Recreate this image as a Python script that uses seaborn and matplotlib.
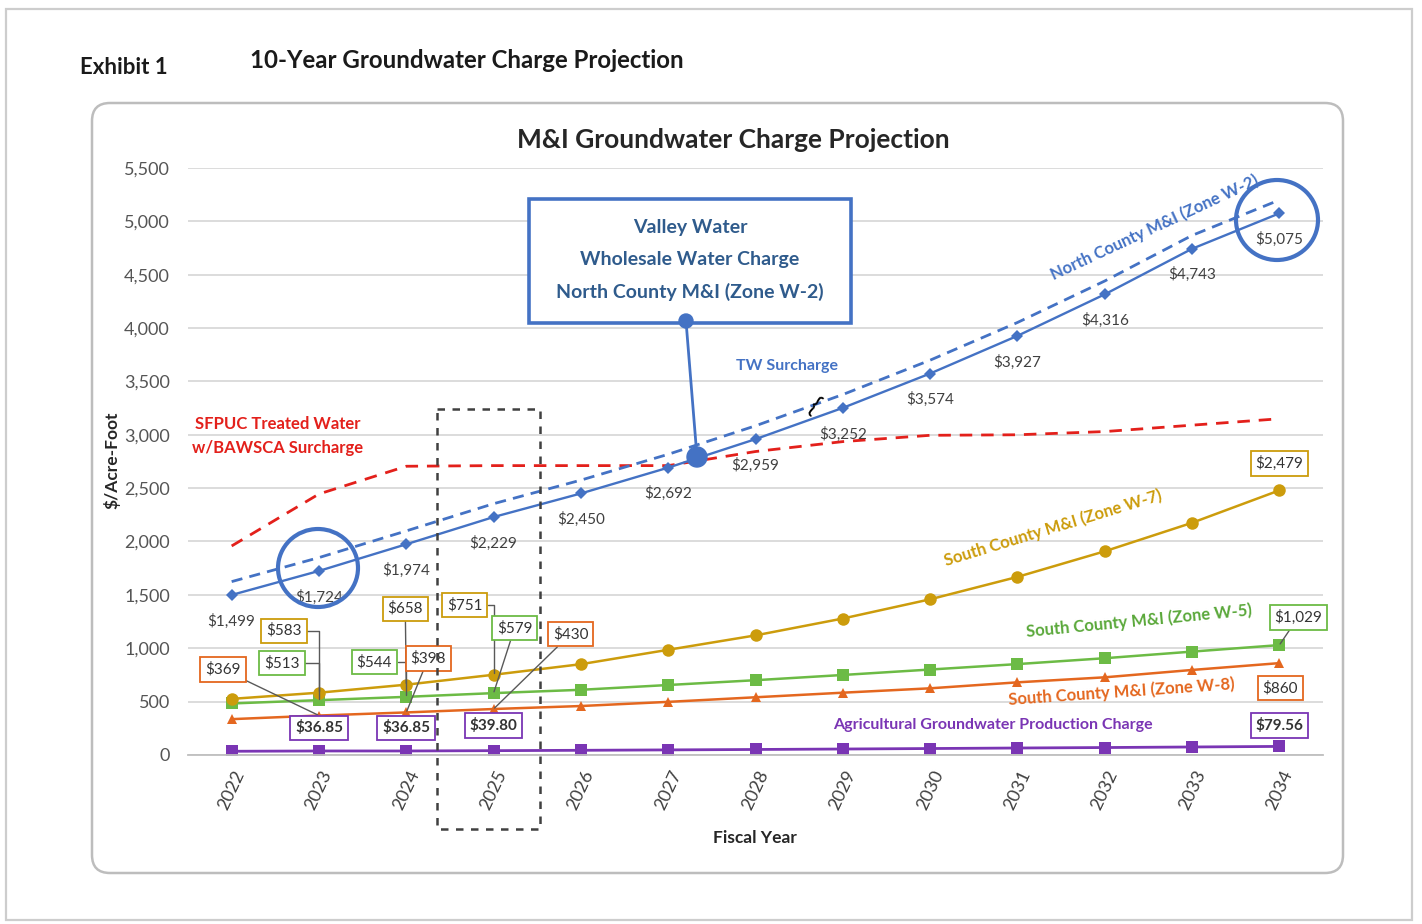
import numpy as np
import pandas as pd
import matplotlib
matplotlib.use("Agg")
import matplotlib.pyplot as plt
import seaborn as sns
from matplotlib.patches import FancyBboxPatch, Rectangle, Ellipse, Circle
from matplotlib.lines import Line2D

# ---- data ($ per acre-foot by fiscal year) ----
years = ["2022", "2023", "2024", "2025", "2026", "2027", "2028",
         "2029", "2030", "2031", "2032", "2033", "2034"]
north_w2 = [1499, 1724, 1974, 2229, 2450, 2692, 2959, 3252, 3574, 3927, 4316, 4743, 5075]
north_w2_tw = [1624, 1849, 2099, 2354, 2575, 2817, 3084, 3377, 3699, 4052, 4441, 4868, 5200]
sfpuc_bawsca = [1958, 2445, 2705, 2711, 2711, 2711, 2843, 2936, 2995, 3000, 3030, 3090, 3150]
south_w7 = [525, 583, 658, 751, 850, 985, 1120, 1278, 1458, 1668, 1908, 2175, 2479]
south_w5 = [482, 513, 544, 579, 610, 655, 700, 749, 800, 851, 906, 968, 1029]
south_w8 = [335, 369, 398, 430, 458, 497, 540, 583, 624, 680, 727, 796, 860]
ag_charge = [34.00, 36.85, 36.85, 39.80, 43.10, 46.80, 50.80, 55.10, 59.70,
             64.60, 69.00, 74.20, 79.56]

BLUE = "#4472c4"
RED = "#e3201b"
GOLD = "#cc9c0c"
GREEN = "#6cbb45"
ORANGE = "#e4671f"
PURPLE = "#7a35b4"
TXT = "#404040"

sns.set_theme(style="white")
plt.rcParams["font.family"] = ["Lato", "DejaVu Sans"]
plt.rcParams["text.parse_math"] = False

W, H = 1422, 924
fig = plt.figure(figsize=(W / 100, H / 100), dpi=100)
fig.patch.set_facecolor("white")

# background layer in pixel coordinates
bg = fig.add_axes([0, 0, 1, 1], zorder=0)
bg.set_xlim(0, W)
bg.set_ylim(H, 0)
bg.axis("off")
bg.add_patch(Rectangle((6, 9), 1406, 911, fill=False, ec="#cdcdcd", lw=1.6))
bg.add_patch(FancyBboxPatch((92, 103), 1251, 770,
                            boxstyle="round,pad=0,rounding_size=18",
                            fc="white", ec="#bdbdbd", lw=1.8))
bg.text(80, 67, "Exhibit 1", fontsize=16, fontweight="bold", color="#1a1a1a",
        ha="left", va="center")
bg.text(250, 60, "10-Year Groundwater Charge Projection", fontsize=17.3,
        fontweight="bold", color="#1a1a1a", ha="left", va="center")
bg.text(733, 140, "M&I Groundwater Charge Projection", fontsize=19,
        fontweight="bold", color="#262626", ha="center", va="center")
bg.text(112, 460, "$/Acre-Foot", fontsize=12.5, fontweight="bold", color="#262626",
        rotation=90, ha="center", va="center")

# main plotting axes
y0, ytop = 754.9, 168.0
ax = fig.add_axes([188 / W, (H - y0) / H, (1323 - 188) / W, (y0 - ytop) / H], zorder=2)
ax.patch.set_alpha(0)

x = np.arange(len(years))
series = [
    (sfpuc_bawsca, RED, None, 0, 2.0, (4.5, 3.2)),
    (north_w2_tw, BLUE, None, 0, 2.0, (4.0, 2.6)),
    (ag_charge, PURPLE, "s", 8, 2.0, None),
    (south_w8, ORANGE, "^", 7.5, 1.8, None),
    (south_w5, GREEN, "s", 8.5, 1.8, None),
    (south_w7, GOLD, "o", 9, 1.8, None),
    (north_w2, BLUE, "D", 6.5, 1.7, None),
]
for vals, col, mk, ms, lw, dash in series:
    kw = dict(marker=mk, markersize=ms, markeredgewidth=0) if mk else {}
    sns.lineplot(x=x, y=vals, ax=ax, color=col, linewidth=lw, errorbar=None, **kw)
    if dash:
        ax.lines[-1].set_dashes(dash)

ax.set_xlim(-0.5, 12.5)
ax.set_ylim(0, 5500)
ax.set_yticks(range(0, 5501, 500))
ax.set_yticklabels([f"{v:,}" for v in range(0, 5501, 500)])
ax.set_xticks(x)
ax.set_xticklabels(years, rotation=65)
ax.set_xticks(np.arange(-0.5, 13, 1), minor=True)
ax.tick_params(axis="x", which="major", length=0, pad=9, labelsize=13, labelcolor=TXT)
ax.tick_params(axis="x", which="minor", length=7, width=1.2, color="#bfbfbf", direction="out")
ax.tick_params(axis="y", length=0, pad=13, labelsize=13, labelcolor="#555555")
ax.grid(axis="y", color="#d9d9d9", lw=1.3)
ax.grid(axis="x", visible=False)
ax.set_axisbelow(True)
for s in ["left", "right", "top"]:
    ax.spines[s].set_visible(False)
ax.spines["bottom"].set_color("#bfbfbf")
ax.spines["bottom"].set_linewidth(1.3)
ax.set_xlabel("")
ax.set_ylabel("")

# value labels under the North County points
for i, v in enumerate(north_w2):
    ax.annotate(f"${v:,}", xy=(i, v), xytext=(0, -26), textcoords="offset pixels",
                ha="center", va="center", fontsize=11, color=TXT, zorder=6)

# boxed value labels with leader lines: (series, index, text, box colour, dx, dy, connection, bold)
boxed = [
    (south_w8, 1, "$369", ORANGE, -96, 46, "arc3", False),
    (south_w7, 1, "$583", GOLD, -35, 62, "angle,angleA=0,angleB=90,rad=0", False),
    (south_w5, 1, "$513", GREEN, -37, 37, "angle,angleA=0,angleB=90,rad=0", False),
    (ag_charge, 1, "$36.85", PURPLE, 0, 23, None, True),
    (south_w7, 2, "$658", GOLD, -1, 76, "arc3", False),
    (south_w5, 2, "$544", GREEN, -32, 35, "angle,angleA=0,angleB=90,rad=0", False),
    (south_w8, 2, "$398", ORANGE, 22, 54, "arc3", False),
    (ag_charge, 2, "$36.85", PURPLE, 0, 23, None, True),
    (south_w7, 3, "$751", GOLD, -29, 70, "angle,angleA=0,angleB=90,rad=0", False),
    (south_w5, 3, "$579", GREEN, 21, 65, "arc3", False),
    (south_w8, 3, "$430", ORANGE, 77, 75, "arc3", False),
    (ag_charge, 3, "$39.80", PURPLE, 0, 25, None, True),
    (south_w7, 12, "$2,479", GOLD, 0, 27, None, False),
    (south_w5, 12, "$1,029", GREEN, 19, 28, "arc3", False),
    (south_w8, 12, "$860", ORANGE, 1, -25, None, False),
    (ag_charge, 12, "$79.56", PURPLE, 0, 21, None, True),
]
for vals, i, txt, col, dx, dy, conn, bold in boxed:
    kw = {}
    if conn:
        kw["arrowprops"] = dict(arrowstyle="-", color="#595959", lw=1.0,
                                shrinkA=0, shrinkB=1, connectionstyle=conn)
    ax.annotate(txt, xy=(i, vals[i]), xytext=(dx, dy), textcoords="offset pixels",
                ha="center", va="center", fontsize=11, color="#333333",
                fontweight="bold" if bold else "normal", zorder=7,
                bbox=dict(boxstyle="square,pad=0.32", fc="white", ec=col, lw=1.3), **kw)

# overlay layer in pixel coordinates
ov = fig.add_axes([0, 0, 1, 1], zorder=5)
ov.set_xlim(0, W)
ov.set_ylim(H, 0)
ov.axis("off")
ov.patch.set_alpha(0)

# callout box
ov.add_patch(Rectangle((529, 199), 322, 124, fc="white", ec=BLUE, lw=2.6))
for yy, t in [(227, "Valley Water"), (259, "Wholesale Water Charge"),
              (292, "North County M&I (Zone W-2)")]:
    ov.text(690, yy, t, fontsize=14, fontweight="bold", color="#2f5b8c",
            ha="center", va="center")
ov.add_line(Line2D([686, 697], [321, 457], color=BLUE, lw=2))
ov.add_patch(Circle((686, 321), 7, color=BLUE))
ov.add_patch(Circle((697, 457), 10, color=BLUE))

# highlight circles
ov.add_patch(Ellipse((318, 568), 80, 78, fill=False, ec=BLUE, lw=3))
ov.add_patch(Ellipse((1277, 220), 82, 80, fill=False, ec=BLUE, lw=3))

# dashed frame around 2025
ov.add_patch(Rectangle((437, 409), 103, 420, fill=False, ec="#404040",
                       lw=1.8, ls=(0, (3, 3))))

# series labels
ov.text(1155, 227, "North County M&I (Zone W-2)", fontsize=12, fontweight="bold",
        color=BLUE, rotation=25, ha="center", va="center", rotation_mode="anchor")
ov.text(787, 366, "TW Surcharge", fontsize=11.5, fontweight="bold", color=BLUE,
        ha="center", va="center")
ov.text(814, 406, "{", fontsize=18, color="black", rotation=-35, ha="center", va="center")
ov.text(278, 424, "SFPUC Treated Water", fontsize=12, fontweight="bold", color=RED,
        ha="center", va="center")
ov.text(278, 448, "w/BAWSCA Surcharge", fontsize=12, fontweight="bold", color=RED,
        ha="center", va="center")
ov.text(1053, 528, "South County M&I (Zone W-7)", fontsize=12, fontweight="bold",
        color=GOLD, rotation=17, ha="center", va="center", rotation_mode="anchor")
ov.text(1139, 621, "South County M&I (Zone W-5)", fontsize=12, fontweight="bold",
        color="#5aa83a", rotation=5.5, ha="center", va="center", rotation_mode="anchor")
ov.text(1122, 692, "South County M&I (Zone W-8)", fontsize=12, fontweight="bold",
        color=ORANGE, rotation=4, ha="center", va="center", rotation_mode="anchor")
ov.text(993, 725, "Agricultural Groundwater Production Charge", fontsize=11.5,
        fontweight="bold", color=PURPLE, ha="center", va="center")
ov.text(755, 838, "Fiscal Year", fontsize=12.5, fontweight="bold", color="#262626",
        ha="center", va="center")

fig.savefig("out.png", dpi=100, facecolor="white")
